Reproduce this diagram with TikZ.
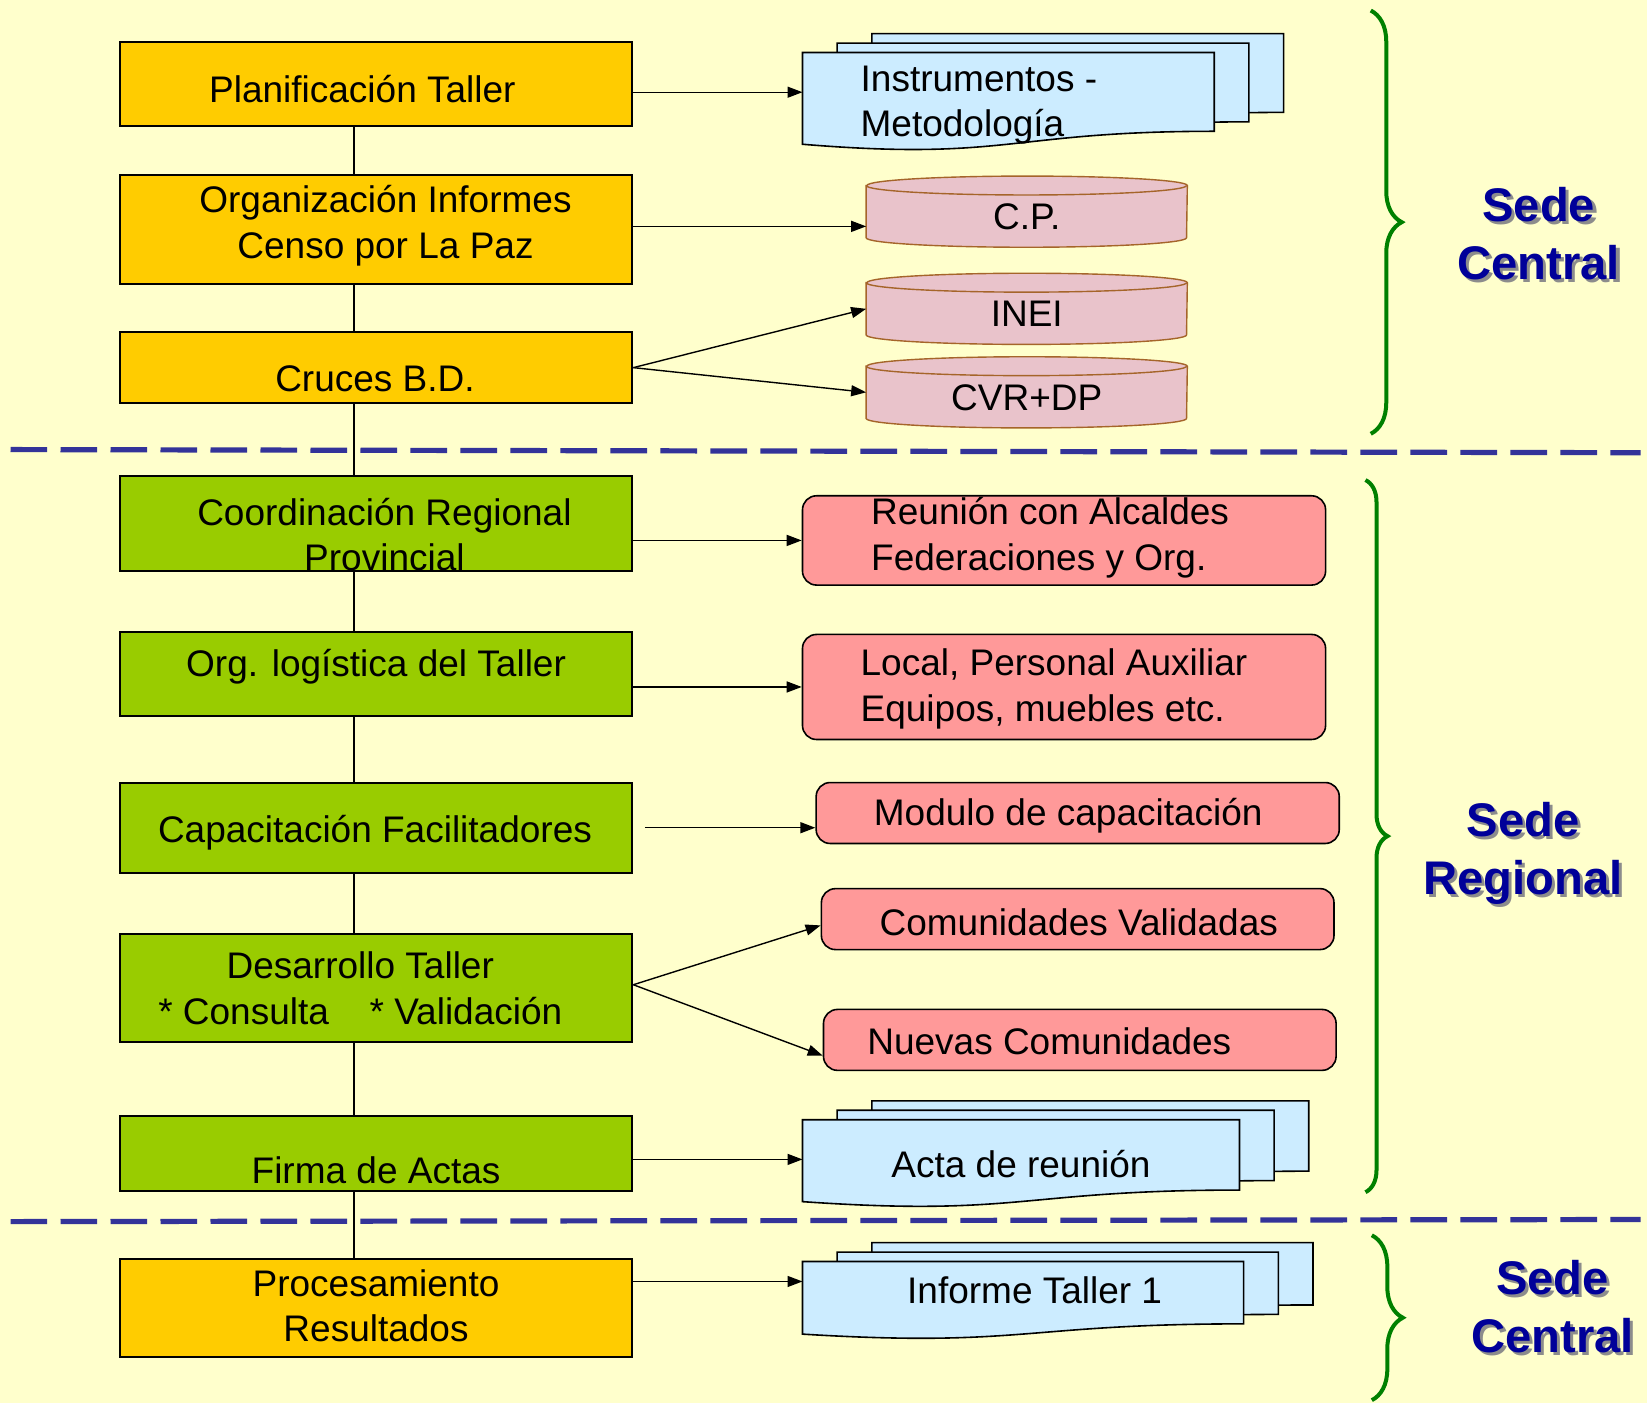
\documentclass[tikz,border=0pt]{standalone}
\usepackage{fontspec}
\setmainfont{Liberation Sans}
\usetikzlibrary{arrows.meta,decorations.pathreplacing}

\definecolor{fondo}{HTML}{FFFFCC}
\definecolor{naranja}{HTML}{FFCC00}
\definecolor{verde}{HTML}{99CC00}
\definecolor{rosa}{HTML}{FF9999}
\definecolor{celeste}{HTML}{CCECFF}
\definecolor{cilrosa}{HTML}{E9C3CB}
\definecolor{cilborde}{HTML}{A5652A}
\definecolor{azulraya}{HTML}{333399}
\definecolor{azulsede}{HTML}{000099}
\definecolor{sombra}{HTML}{8C8C8C}
\definecolor{verdellave}{HTML}{008000}

\newcommand{\pxu}{0.5252pt}

% stack of three document sheets
\newcommand{\docstack}[5]{%
  \foreach \dx/\dy in {66/-18, 33/-9, 0/0}{
    \filldraw[docsheet, shift={(\dx,\dy)}] (#2,#4) -- (#2+#3,#4) -- (#2+#3,#4+0.802*#5)
      .. controls (#2+0.5*#3,#4+0.802*#5) and (#2+0.5*#3,#4+1.1075*#5) .. (#2,#4+0.934*#5) -- cycle;
  }
  \node[inner sep=0, minimum width=#3*\pxu, minimum height=0.8*#5*\pxu, anchor=north west] (#1) at (#2,#4) {};
}

% data base cylinder
\newcommand{\dbcyl}[4]{%
  \node[inner sep=0, minimum width=305*\pxu, minimum height=67*\pxu] (#1) at (#2,#3) {};
  \filldraw[cylsty] ([yshift=-9*\pxu]#1.north west) -- ([yshift=9*\pxu]#1.south west)
    arc[start angle=180, end angle=360, x radius=152.5*\pxu, y radius=9*\pxu]
    -- ([yshift=-9*\pxu]#1.north east)
    arc[start angle=0, end angle=180, x radius=152.5*\pxu, y radius=9*\pxu] -- cycle;
  \draw[cylsty, fill=none] ([yshift=-9*\pxu]#1.north west)
    arc[start angle=180, end angle=360, x radius=152.5*\pxu, y radius=9*\pxu];
  \node[txt] (#1T) at ([yshift=-5*\pxu]#1.center) {#4};
}

\tikzset{
  txt/.style={font=\fontsize{18.5}{22.8}\selectfont, align=center, inner sep=0},
  box/.style={draw=black, line width=1pt, minimum width=488*\pxu, inner sep=0},
  orangebox/.style={box, fill=naranja},
  greenbox/.style={box, fill=verde},
  pinkbox/.style={draw=black, line width=0.8pt, fill=rosa, rounded corners=7pt, inner sep=0},
  docsheet/.style={draw=black, line width=0.8pt, fill=celeste},
  cylsty/.style={draw=cilborde, line width=0.7pt, fill=cilrosa},
  linea/.style={draw=black, line width=0.7pt},
  arr/.style={linea, -{Triangle[length=7.5pt,width=5.5pt]}},
  raya/.style={draw=azulraya, line width=2.6pt, dash pattern=on 18.3pt off 6.7pt},
  llave/.style={decorate, draw=verdellave, line width=2pt},
  sede/.style={font=\fontsize{23.6}{29}\selectfont\bfseries, align=center, inner sep=0}
}

\begin{document}
\begin{tikzpicture}[x=\pxu, y=-\pxu]
  \fill[fondo] (0,0) rectangle (1568,1336);
  \useasboundingbox (0,0) rectangle (1568,1336);

  % section separators
  \draw[raya] (10,428) -- (1562,431);
  \draw[raya] (10,1163) -- (1562,1161);

  % left column
  \node[orangebox, minimum height=80*\pxu] (plan) at (358,80) {};
  \node[txt] (planT) at (345,85) {Planificación Taller};
  \node[orangebox, minimum height=103*\pxu] (org) at (358,218.5) {};
  \node[txt] (orgT) at (367,215) {Organización Informes\\Censo por La Paz};
  \node[orangebox, minimum height=68*\pxu] (cruces) at (358,350) {};
  \node[txt] (crucesT) at (357,361) {Cruces B.D.};
  \node[greenbox, minimum height=91*\pxu] (coord) at (358,498.5) {};
  \node[txt] (coordT) at (366,509) {Coordinación Regional\\Provincial};
  \node[greenbox, minimum height=80*\pxu] (logis) at (358,642) {};
  \node[txt] (logisT) at (358,635) {Org. logística del Taller};
  \node[greenbox, minimum height=86*\pxu] (capa) at (358,788) {};
  \node[txt] (capaT) at (357,793) {Capacitación Facilitadores};
  \node[greenbox, minimum height=103*\pxu] (desa) at (358,940.5) {};
  \node[txt] (desaT) at (343,941) {Desarrollo Taller\\* Consulta\hspace{1.1em}* Validación};
  \node[greenbox, minimum height=72*\pxu] (firma) at (358,1098) {};
  \node[txt] (firmaT) at (358,1114) {Firma de Actas};
  \node[orangebox, minimum height=93*\pxu] (proc) at (358,1245.5) {};
  \node[txt] (procT) at (358,1243) {Procesamiento\\Resultados};

  \coordinate (spine) at (337,0);
  \foreach \a/\b in {plan/org, org/cruces, cruces/coord, coord/logis, logis/capa, capa/desa, desa/firma, firma/proc}
    \draw[linea] (\a.south -| spine) -- (\b.north -| spine);

  % right column
  \docstack{instr}{764}{392}{50}{93.5}
  \node[txt, align=left, anchor=west] (instrT) at (819,100) {Instrumentos -\\Metodología};

  \dbcyl{cp}{977.5}{201.5}{C.P.}
  \dbcyl{inei}{977.5}{294}{INEI}
  \dbcyl{cvr}{977.5}{373.5}{CVR+DP}

  \node[pinkbox, minimum width=498*\pxu, minimum height=85*\pxu] (reunion) at (1013,514.5) {};
  \node[txt, align=left, anchor=west] (reunionT) at (829,512) {Reunión con Alcaldes\\Federaciones y Org.};
  \node[pinkbox, minimum width=498*\pxu, minimum height=100*\pxu] (local) at (1013,654) {};
  \node[txt, align=left, anchor=west] (localT) at (819,656) {Local, Personal Auxiliar\\Equipos, muebles etc.};
  \node[pinkbox, minimum width=498*\pxu, minimum height=58*\pxu] (modulo) at (1026,774) {};
  \node[txt] (moduloT) at (1017,777) {Modulo de capacitación};
  \node[pinkbox, minimum width=488*\pxu, minimum height=58*\pxu] (valid) at (1026,875) {};
  \node[txt] (validT) at (1027,878) {Comunidades Validadas};
  \node[pinkbox, minimum width=488*\pxu, minimum height=58*\pxu] (nuevas) at (1028,990) {};
  \node[txt] (nuevasT) at (999,991) {Nuevas Comunidades};

  \docstack{acta}{764}{416}{1066}{83.5}
  \node[txt] (actaT) at (972,1108) {Acta de reunión};
  \docstack{inf}{764}{420}{1201}{74}
  \node[txt] (infT) at (985,1228) {Informe Taller 1};

  % arrows
  \draw[arr] (instr.west -| plan.east) -- (instr.west);
  \draw[arr] ([yshift=3*\pxu]org.east) -- ([yshift=3*\pxu]org.east -| cp.west);
  \draw[arr] (cruces.east) -- (inei.west);
  \draw[arr] (cruces.east) -- (cvr.west);
  \draw[arr] (reunion.west -| coord.east) -- (reunion.west);
  \draw[arr] (local.west -| logis.east) -- (local.west);
  \draw[arr] ([xshift=11*\pxu]capa.east) -- (capa.east -| modulo.west);
  \draw[arr] ([yshift=3*\pxu]desa.east) -- ([yshift=-6*\pxu]valid.west);
  \draw[arr] ([yshift=3*\pxu]desa.east) -- ([yshift=-15*\pxu]nuevas.west);
  \draw[arr] ([yshift=-4*\pxu]acta.west -| firma.east) -- ([yshift=-4*\pxu]acta.west);
  \draw[arr] ([yshift=11*\pxu]inf.west -| proc.east) -- ([yshift=11*\pxu]inf.west);

  % braces and place labels
  \draw[llave, decoration={brace, amplitude=15.5pt}] (1305,10) -- (1305,413);
  \draw[llave, decoration={brace, amplitude=11pt}] (1300,457) -- (1300,1135);
  \draw[llave, decoration={brace, amplitude=15.5pt}] (1306,1176) -- (1306,1333);

  \node[sede, text=sombra] (central1S) at (1468,225.5) {Sede\\Central};
  \node[sede, text=azulsede] (central1) at (1465,222.5) {Sede\\Central};
  \node[sede, text=sombra] (regionalS) at (1453,815.5) {Sede\\Regional};
  \node[sede, text=azulsede] (regional) at (1450,812.5) {Sede\\Regional};
  \node[sede, text=sombra] (central2S) at (1481,1246.5) {Sede\\Central};
  \node[sede, text=azulsede] (central2) at (1478,1243.5) {Sede\\Central};
\end{tikzpicture}
\end{document}
